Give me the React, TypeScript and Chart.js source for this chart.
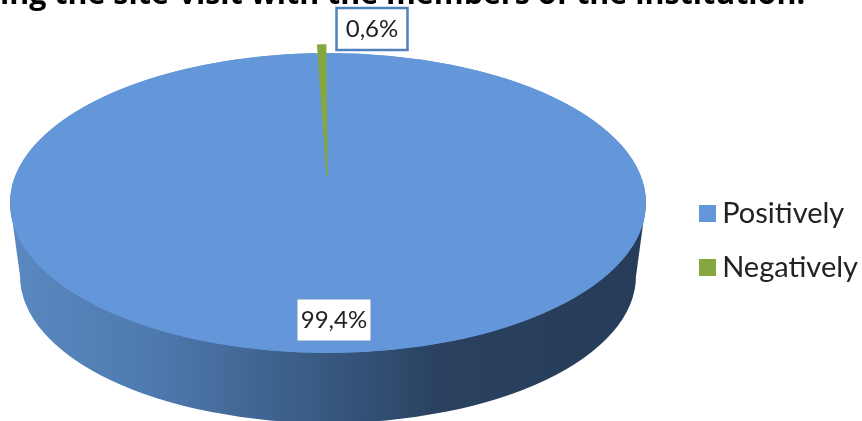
import React, { useEffect, useRef } from "react";
import { Chart, registerables } from "chart.js";

Chart.register(...registerables);

const categories = ["Positively", "Negatively"];
const percentValues = [99.4, 0.6];
const sliceColors = ["#6397da", "#86a63f"];
const titleText = "ing the site-visit with the members of the institution.";

const ELLIPSE = { cx: 328, cy: 203, rx: 318, ry: 150 };
const BASE = { cx: 328, cy: 276, rx: 308, ry: 147 };
const LABEL_BOXES = [
  { cx: 334, cy: 320, w: 74, h: 42, lw: 1, border: "#6a94c6" },
  { cx: 372, cy: 29, w: 71, h: 42, lw: 2.5, border: "#4f81bd" },
];

const swatch = (color: string) => {
  const c = document.createElement("canvas");
  c.width = 17;
  c.height = 17;
  const x = c.getContext("2d")!;
  x.fillStyle = color;
  x.fillRect(0, 0, 17, 17);
  return c;
};

const pie3d = {
  id: "pie3d",
  beforeDatasetsDraw(chart: any) {
    const arc = chart.getDatasetMeta(0).data[0];
    const { ctx } = chart;
    const { cx, cy, rx, ry } = ELLIPSE;
    ctx.save();
    const g = ctx.createLinearGradient(cx - rx, 0, cx + rx, 0);
    g.addColorStop(0, "#5a88c0");
    g.addColorStop(0.22, "#4f7aaf");
    g.addColorStop(0.5, "#375880");
    g.addColorStop(0.68, "#2a4160");
    g.addColorStop(1, "#263c58");
    ctx.fillStyle = g;
    ctx.beginPath();
    ctx.moveTo(cx - rx, cy);
    ctx.lineTo(BASE.cx - BASE.rx, BASE.cy);
    ctx.ellipse(BASE.cx, BASE.cy, BASE.rx, BASE.ry, 0, Math.PI, 0, true);
    ctx.lineTo(cx + rx, cy);
    ctx.closePath();
    ctx.fill();
    ctx.fillStyle = sliceColors[0];
    ctx.beginPath();
    ctx.ellipse(cx, cy, rx, ry, 0, 0, Math.PI * 2);
    ctx.fill();
    ctx.restore();
    ctx.save();
    ctx.translate(cx, cy);
    ctx.scale(rx / arc.outerRadius, ry / arc.outerRadius);
    ctx.translate(-arc.x, -arc.y);
  },
  afterDatasetsDraw(chart: any) {
    const { ctx } = chart;
    ctx.restore();
    ctx.save();
    ctx.font = "24px Lato";
    ctx.textAlign = "center";
    ctx.textBaseline = "middle";
    percentValues.forEach((v, i) => {
      const b = LABEL_BOXES[i];
      ctx.fillStyle = "#ffffff";
      ctx.strokeStyle = b.border;
      ctx.lineWidth = b.lw;
      ctx.fillRect(b.cx - b.w / 2, b.cy - b.h / 2, b.w, b.h);
      ctx.strokeRect(b.cx - b.w / 2, b.cy - b.h / 2, b.w, b.h);
      ctx.fillStyle = "#222222";
      ctx.fillText(v.toFixed(1).replace(".", ",") + "%", b.cx, b.cy);
    });
    ctx.restore();
  },
};

export default function App() {
  const ref = useRef<HTMLCanvasElement>(null);
  useEffect(() => {
    document.body.style.margin = "0";
    document.body.style.background = "#ffffff";
    const chart = new Chart(ref.current!, {
      type: "pie",
      data: {
        labels: categories,
        datasets: [
          {
            data: percentValues,
            backgroundColor: sliceColors,
            borderWidth: 0,
            offset: [0, 20],
            clip: false,
          } as any,
        ],
      },
      options: {
        responsive: false,
        animation: false,
        cutout: "12%",
        layout: { padding: { left: 0, right: -6 } },
        plugins: {
          tooltip: { enabled: false },
          title: {
            display: true,
            text: titleText,
            align: "start",
            color: "#000000",
            font: { family: "'Open Sans'", size: 30.4, weight: "bold", lineHeight: 1.2 },
            padding: { top: -23, bottom: 47.5 },
          },
          legend: {
            position: "right",
            fullSize: false,
            labels: {
              usePointStyle: true,
              pointStyleWidth: 1,
              boxHeight: 17,
              padding: 25,
              color: "#222222",
              font: { family: "Lato", size: 29 },
              generateLabels: (c: any) =>
                (Chart as any).overrides.doughnut.plugins.legend.labels
                  .generateLabels(c)
                  .map((item: any, i: number) => ({ ...item, pointStyle: swatch(sliceColors[i]) })),
            },
          },
        },
      },
      plugins: [pie3d],
    } as any);
    return () => chart.destroy();
  }, []);
  return (
    <div style={{ position: "fixed", inset: 0, overflow: "hidden", background: "#fff" }}>
      <canvas ref={ref} width={862} height={421} style={{ display: "block" }} />
    </div>
  );
}
